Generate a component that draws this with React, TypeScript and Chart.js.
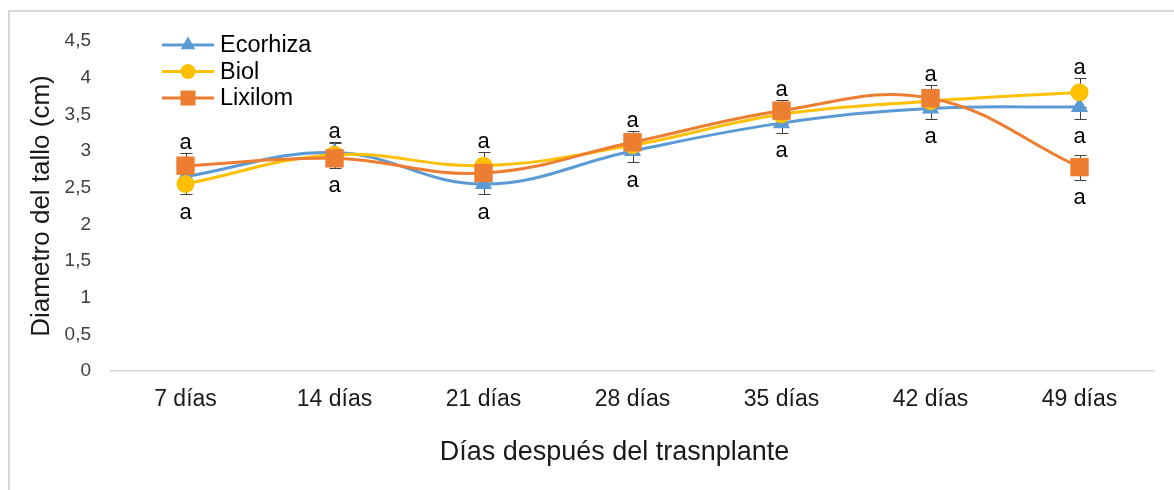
import React, { useEffect, useRef } from 'react';
import { Chart, registerables } from 'chart.js';

Chart.register(...registerables);

const categories = ['7 días', '14 días', '21 días', '28 días', '35 días', '42 días', '49 días'];
const seriesNames = ['Ecorhiza', 'Biol', 'Lixilom'];
const ecorhiza = [2.65, 2.98, 2.55, 3.0, 3.38, 3.58, 3.6];
const biol = [2.55, 2.95, 2.8, 3.08, 3.5, 3.68, 3.8];
const lixilom = [2.8, 2.9, 2.7, 3.12, 3.55, 3.72, 2.78];
const ecorhizaErr = [0.12, 0.14, 0.14, 0.15, 0.13, 0.14, 0.16];
const biolErr = [0.14, 0.16, 0.18, 0.13, 0.13, 0.13, 0.2];
const lixilomErr = [0.17, 0.13, 0.13, 0.15, 0.15, 0.18, 0.17];
const ecorhizaLetters = ['', 'a', 'a', 'a', 'a', 'a', 'a'];
const biolLetters = ['a', '', 'a', '', '', '', 'a'];
const lixilomLetters = ['a', 'a', '', 'a', 'a', 'a', 'a'];
const ecorhizaLetterPos = ['', 'above', 'below', 'below', 'below', 'below', 'below'];
const biolLetterPos = ['below', '', 'above', '', '', '', 'above'];
const lixilomLetterPos = ['above', 'below', '', 'above', 'above', 'above', 'below'];
const yMin = 0;
const yMax = 4.5;
const yStep = 0.5;
const xTitle = 'Días después del trasnplante';
const yTitle = 'Diametro del tallo (cm)';

const COLORS = ['#5B9BD5', '#FFC000', '#ED7D31'];
const STYLES = ['triangle', 'circle', 'rect'];
const RADII = [10, 9, 13];
const FONT = "'Liberation Sans', Arial, sans-serif";

const errorsAll = [ecorhizaErr, biolErr, lixilomErr];
const lettersAll = [ecorhizaLetters, biolLetters, lixilomLetters];
const letterPosAll = [ecorhizaLetterPos, biolLetterPos, lixilomLetterPos];

const errorBarPlugin = {
  id: 'errorBars',
  beforeDatasetsDraw(chart: any) {
    const ctx = chart.ctx;
    const y = chart.scales.y;
    ctx.save();
    ctx.strokeStyle = '#404040';
    ctx.lineWidth = 1;
    chart.data.datasets.forEach((ds: any, i: number) => {
      const meta = chart.getDatasetMeta(i);
      const errs = errorsAll[i];
      meta.data.forEach((pt: any, j: number) => {
        const v = ds.data[j];
        const t = Math.round(y.getPixelForValue(v + errs[j])) + 0.5;
        const b = Math.round(y.getPixelForValue(v - errs[j])) + 0.5;
        const x = Math.round(pt.x) + 0.5;
        ctx.beginPath();
        ctx.moveTo(x, t);
        ctx.lineTo(x, b);
        ctx.moveTo(x - 6, t);
        ctx.lineTo(x + 6, t);
        ctx.moveTo(x - 6, b);
        ctx.lineTo(x + 6, b);
        ctx.stroke();
      });
    });
    ctx.restore();
  },
};

const letterPlugin = {
  id: 'letters',
  afterDatasetsDraw(chart: any) {
    const ctx = chart.ctx;
    const y = chart.scales.y;
    ctx.save();
    ctx.fillStyle = '#000000';
    ctx.font = `22px ${FONT}`;
    ctx.textAlign = 'center';
    ctx.textBaseline = 'alphabetic';
    chart.data.datasets.forEach((ds: any, i: number) => {
      const meta = chart.getDatasetMeta(i);
      meta.data.forEach((pt: any, j: number) => {
        const txt = lettersAll[i][j];
        const pos = letterPosAll[i][j];
        if (!txt) return;
        const v = ds.data[j];
        const e = errorsAll[i][j];
        if (pos === 'above') {
          ctx.fillText(txt, pt.x, y.getPixelForValue(v + e) - 4);
        } else {
          ctx.fillText(txt, pt.x, y.getPixelForValue(v - e) + 24.5);
        }
      });
    });
    ctx.restore();
  },
};

const xTitlePlugin = {
  id: 'xTitle',
  afterDraw(chart: any) {
    const ctx = chart.ctx;
    const area = chart.chartArea;
    ctx.save();
    ctx.fillStyle = '#1a1a1a';
    ctx.font = `27px ${FONT}`;
    ctx.textAlign = 'center';
    ctx.textBaseline = 'middle';
    ctx.fillText(xTitle, (area.left + area.right) / 2 - 18, area.bottom + 82);
    ctx.restore();
  },
};

const legendPlugin = {
  id: 'customLegend',
  afterDraw(chart: any) {
    const ctx = chart.ctx;
    const area = chart.chartArea;
    const x0 = area.left + 51;
    const x1 = area.left + 103;
    const xm = (x0 + x1) / 2;
    ctx.save();
    chart.data.datasets.forEach((ds: any, i: number) => {
      const yy = area.top + 4 + i * 26.5;
      ctx.strokeStyle = ds.borderColor;
      ctx.lineWidth = 3;
      ctx.beginPath();
      ctx.moveTo(x0, yy);
      ctx.lineTo(x1, yy);
      ctx.stroke();
      ctx.fillStyle = ds.borderColor;
      ctx.beginPath();
      if (STYLES[i] === 'triangle') {
        const r = 8.5;
        ctx.moveTo(xm, yy - r);
        ctx.lineTo(xm + r * 0.866, yy + r * 0.5);
        ctx.lineTo(xm - r * 0.866, yy + r * 0.5);
        ctx.closePath();
      } else if (STYLES[i] === 'circle') {
        ctx.arc(xm, yy, 7.5, 0, Math.PI * 2);
      } else {
        ctx.rect(xm - 7.5, yy - 7.5, 15, 15);
      }
      ctx.fill();
      ctx.fillStyle = '#000000';
      ctx.font = `23.5px ${FONT}`;
      ctx.textAlign = 'left';
      ctx.textBaseline = 'middle';
      ctx.fillText(seriesNames[i], x1 + 6, yy + 1);
    });
    ctx.restore();
  },
};

export default function App() {
  const canvasRef = useRef<HTMLCanvasElement | null>(null);

  useEffect(() => {
    const canvas = canvasRef.current;
    if (!canvas) return;
    const values = [ecorhiza, biol, lixilom];
    const chart = new Chart(canvas, {
      type: 'line',
      data: {
        labels: categories,
        datasets: values.map((vals, i) => ({
          label: seriesNames[i],
          data: vals,
          borderColor: COLORS[i],
          backgroundColor: COLORS[i],
          borderWidth: 3,
          tension: 0.4,
          pointStyle: STYLES[i] as any,
          pointRadius: RADII[i],
          pointBorderWidth: 0,
          pointBackgroundColor: COLORS[i],
          order: 3 - i,
          fill: false,
        })),
      },
      options: {
        animation: false,
        responsive: true,
        maintainAspectRatio: false,
        layout: { padding: { top: 41, right: 20, left: 0, bottom: 0 } },
        plugins: {
          legend: { display: false },
          tooltip: { enabled: false },
        },
        scales: {
          x: {
            type: 'category',
            offset: true,
            grid: { display: false, drawTicks: false },
            border: { display: true, color: '#d9d9d9', width: 1.5 },
            ticks: {
              color: '#1a1a1a',
              font: { family: FONT, size: 23 },
              padding: 15,
              maxRotation: 0,
              autoSkip: false,
            },
            title: { display: false, text: xTitle },
            afterFit: (scale: any) => {
              scale.height = 119;
            },
          },
          y: {
            min: yMin,
            max: yMax,
            grid: { display: false, drawTicks: false },
            border: { display: false },
            ticks: {
              stepSize: yStep,
              color: '#404040',
              font: { family: FONT, size: 19 },
              padding: 20,
              callback: (v: any) => String(v).replace('.', ','),
            },
            title: {
              display: true,
              text: yTitle,
              color: '#1a1a1a',
              font: { family: FONT, size: 26 },
              padding: { top: 26, bottom: 0 },
            },
            afterFit: (scale: any) => {
              scale.width = 111;
            },
          },
        },
      },
      plugins: [errorBarPlugin, letterPlugin, xTitlePlugin, legendPlugin],
    });
    return () => chart.destroy();
  }, []);

  return (
    <div style={{ position: 'fixed', left: 0, top: 0, width: 1174, height: 490, background: '#ffffff' }}>
      <div
        style={{
          position: 'absolute',
          left: 8,
          top: 10,
          right: 0,
          bottom: 0,
          borderTop: '2px solid #d9d9d9',
          borderLeft: '2px solid #d9d9d9',
        }}
      />
      <div style={{ position: 'absolute', left: 0, top: 0, width: 1174, height: 490 }}>
        <canvas ref={canvasRef} />
      </div>
    </div>
  );
}
